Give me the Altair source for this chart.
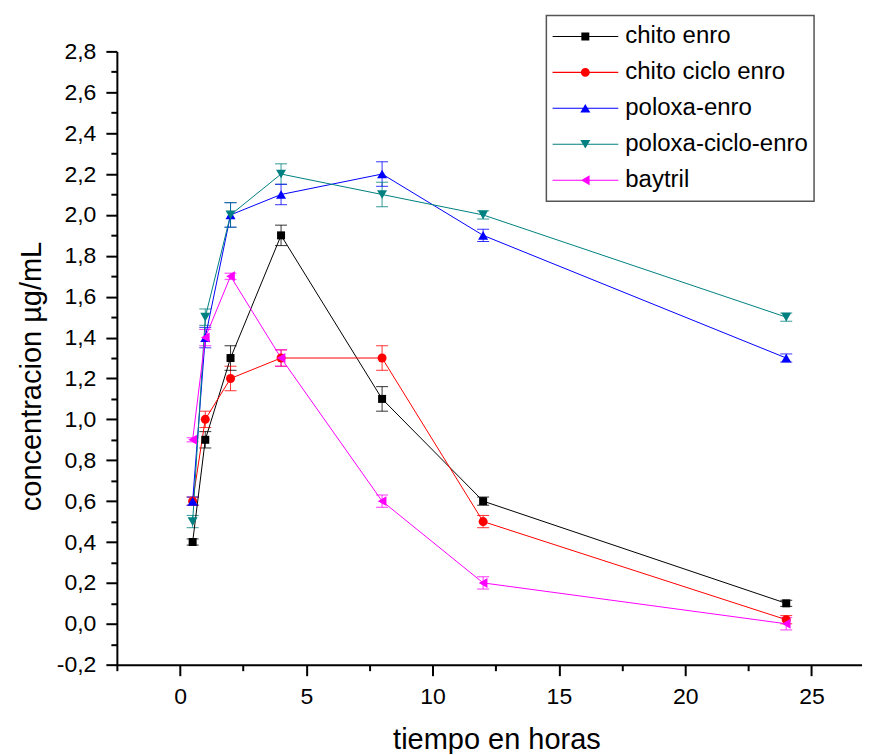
import altair as alt
import pandas as pd

# ---------------- data ----------------
times = [0.5, 1, 2, 4, 8, 12, 24]

series_names = ["chito enro", "chito ciclo enro", "poloxa-enro",
                "poloxa-ciclo-enro", "baytril"]

chito_enro = [0.40, 0.90, 1.30, 1.90, 1.10, 0.60, 0.10]
chito_enro_err = [0.015, 0.04, 0.06, 0.05, 0.06, 0.02, 0.015]

chito_ciclo_enro = [0.60, 1.00, 1.20, 1.30, 1.30, 0.50, 0.02]
chito_ciclo_enro_err = [0.02, 0.04, 0.06, 0.04, 0.06, 0.03, 0.02]

poloxa_enro = [0.60, 1.40, 2.00, 2.10, 2.20, 1.90, 1.30]
poloxa_enro_err = [0.02, 0.05, 0.06, 0.05, 0.06, 0.03, 0.02]

poloxa_ciclo_enro = [0.50, 1.50, 2.00, 2.20, 2.10, 2.00, 1.50]
poloxa_ciclo_enro_err = [0.03, 0.04, 0.06, 0.05, 0.06, 0.02, 0.02]

baytril = [0.90, 1.40, 1.70, 1.30, 0.60, 0.20, 0.00]
baytril_err = [0.01, 0.04, 0.015, 0.04, 0.03, 0.03, 0.03]

x_tick_values = [-2.5, 0, 2.5, 5, 7.5, 10, 12.5, 15, 17.5, 20, 22.5, 25]
y_tick_values = [round(-0.2 + 0.1 * i, 1) for i in range(31)]

# ---------------- styling ----------------
colors = ["#000000", "#ff0000", "#0000ff", "#008080", "#ff00ff"]
marker_shapes = ["square", "circle", "triangle-up", "triangle-down", "triangle-left"]
marker_sizes = [64, 81, 100, 100, 100]
# legend symbols: a thin line with the marker in the middle
LINE = "M-1,-0.016H1V0.016H-1Z"
legend_paths = [
    LINE + "M-0.121,-0.121H0.121V0.121H-0.121Z",
    LINE + "M-0.136,0A0.136,0.136,0,1,1,0.136,0A0.136,0.136,0,1,1,-0.136,0Z",
    LINE + "M0,-0.13L0.152,0.13L-0.152,0.13Z",
    LINE + "M0,0.13L-0.152,-0.13L0.152,-0.13Z",
    LINE + "M-0.13,0L0.13,-0.152L0.13,0.152Z",
]

FONT = "Liberation Sans"

rows = []
for name, vals, errs in [
    (series_names[0], chito_enro, chito_enro_err),
    (series_names[1], chito_ciclo_enro, chito_ciclo_enro_err),
    (series_names[2], poloxa_enro, poloxa_enro_err),
    (series_names[3], poloxa_ciclo_enro, poloxa_ciclo_enro_err),
    (series_names[4], baytril, baytril_err),
]:
    for t, v, e in zip(times, vals, errs):
        rows.append({"serie": name, "tiempo": t, "conc": v, "lo": v - e, "hi": v + e})
df = pd.DataFrame(rows)

legend = alt.Legend(
    title=None, orient="none", legendX=430, legendY=-36,
    labelFont=FONT, labelFontSize=24, labelColor="black", labelOffset=7, labelLimit=400,
    symbolSize=4356, symbolStrokeWidth=0, symbolOpacity=1,
    clipHeight=30, rowPadding=6, padding=6,
    strokeColor="#555555",
)

x_axis = alt.Axis(
    values=x_tick_values, title="tiempo en horas",
    labelExpr="datum.value % 5 == 0 ? format(datum.value, 'd') : ''",
    tickSize=alt.ExprRef("datum.value % 5 == 0 ? 11 : 6"),
    labelOverlap=False, labelFlush=False, labelPadding=10,
    titleX=380, titleY=84, titleBaseline="alphabetic", titleAlign="center",
)
y_axis = alt.Axis(
    values=y_tick_values, title="concentracion µg/mL",
    labelExpr="abs(round(datum.value*10)) % 2 == 0 ? replace(replace(format(datum.value, '.1f'), '.', ','), '\u2212', '-') : ''",
    tickSize=alt.ExprRef("abs(round(datum.value*10)) % 2 == 0 ? 11 : 6"),
    labelOverlap=False, labelFlush=False, labelPadding=10,
    titleX=-76, titleY=325, titleBaseline="alphabetic", titleAlign="center", titleAngle=270,
)

x_scale = alt.Scale(domain=[-2.5, 27], nice=False, zero=False)
y_scale = alt.Scale(domain=[-0.2, 2.8], nice=False, zero=False)

color_enc = alt.Color("serie:N", scale=alt.Scale(domain=series_names, range=colors), legend=legend)
x_enc = alt.X("tiempo:Q", scale=x_scale, axis=x_axis)
y_enc = alt.Y("conc:Q", scale=y_scale, axis=y_axis)

base = alt.Chart(df)

err_rule = base.mark_rule(strokeWidth=1, opacity=0.8).encode(
    x=x_enc, y=alt.Y("lo:Q", scale=y_scale, axis=y_axis), y2="hi:Q", color=color_enc
)
cap_lo = base.mark_tick(orient="horizontal", size=12, thickness=1, opacity=0.8).encode(
    x=x_enc, y=alt.Y("lo:Q", scale=y_scale, axis=y_axis), color=color_enc
)
cap_hi = base.mark_tick(orient="horizontal", size=12, thickness=1, opacity=0.8).encode(
    x=x_enc, y=alt.Y("hi:Q", scale=y_scale, axis=y_axis), color=color_enc
)
lines = base.mark_line(strokeWidth=1).encode(
    x=x_enc, y=y_enc, color=color_enc, detail="serie:N", order="tiempo:Q"
)

point_layers = []
for name, shp, sz in zip(series_names, marker_shapes, marker_sizes):
    point_layers.append(
        base.transform_filter(alt.datum.serie == name)
        .mark_point(shape=shp, size=sz, filled=True, opacity=1, strokeWidth=0)
        .encode(x=x_enc, y=y_enc, color=color_enc)
    )

legend_layer = base.transform_filter("false").mark_point(filled=True, opacity=1).encode(
    x=x_enc, y=y_enc, color=color_enc,
    shape=alt.Shape("serie:N", scale=alt.Scale(domain=series_names, range=legend_paths), legend=legend),
)

chart = alt.layer(err_rule, cap_lo, cap_hi, lines, *point_layers, legend_layer).properties(
    width=746, height=614,
    padding={"left": 109, "top": 43, "right": 0, "bottom": 89},
    autosize=alt.AutoSizeParams(type="none"),
    background="white",
).configure_view(stroke=None).configure_axis(
    grid=False, domainColor="black", domainWidth=2, tickColor="black", tickWidth=2,
    labelFont=FONT, labelFontSize=23, labelColor="black",
    titleFont=FONT, titleFontSize=29, titleFontWeight="normal", titleColor="black",
).configure_legend(strokeWidth=1.5)

chart.save("out.html", embed_options={"renderer": "svg", "actions": False})
